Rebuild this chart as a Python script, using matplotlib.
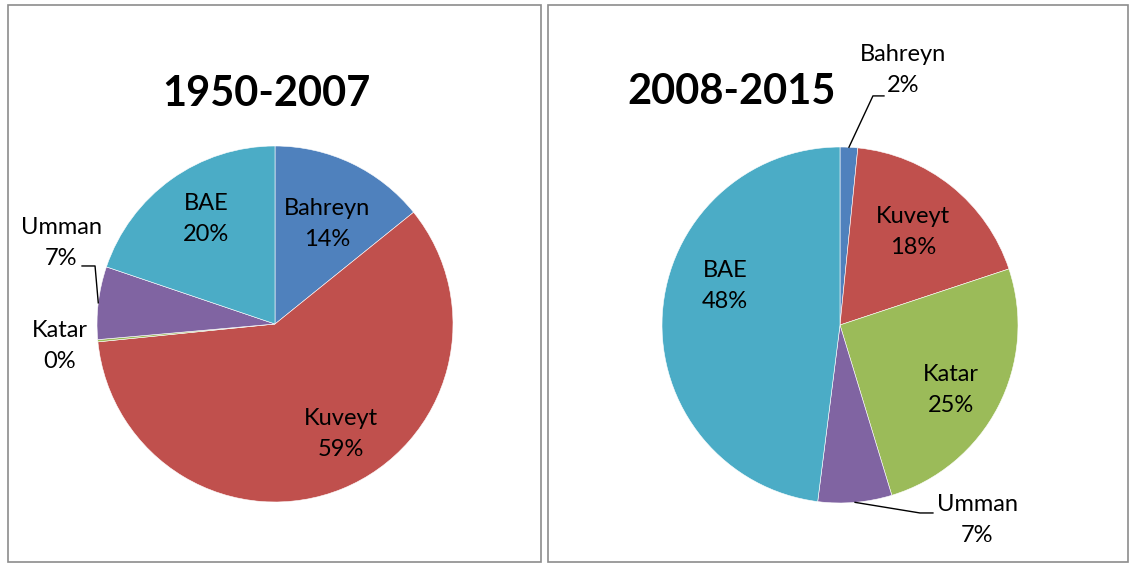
import matplotlib.pyplot as plt
import numpy as np
from matplotlib.patches import Rectangle

plt.rcParams['font.family'] = ['Lato', 'DejaVu Sans']

countries = ['Bahreyn', 'Kuveyt', 'Katar', 'Umman', 'BAE']
shares_1950 = [14.2, 59.2, 0.2, 6.6, 19.8]
shares_2008 = [1.6, 18.3, 25.4, 6.7, 48.0]
colors = ['#4F81BD', '#C0504D', '#9BBB59', '#8064A2', '#4BACC6']

W, H = 1129, 563
fig = plt.figure(figsize=(W / 100, H / 100), dpi=100)

# panel frames (pixels: x0, y0, x1, y1)
for x0, y0, x1, y1 in [(8, 5, 541, 562), (548, 5, 1128, 562)]:
    fig.patches.append(Rectangle((x0 / W, 1 - y1 / H), (x1 - x0) / W, (y1 - y0) / H,
                                 transform=fig.transFigure, fill=False,
                                 edgecolor='#8c8c8c', linewidth=1.2))


def pie_axes(cx, cy, r):
    ax = fig.add_axes([(cx - r) / W, 1 - (cy + r) / H, 2 * r / W, 2 * r / H])
    return ax


def draw_pie(ax, values, inside, outside):
    wedges, _ = ax.pie(values, colors=colors, startangle=90, counterclock=False,
                       radius=1, wedgeprops=dict(edgecolor='white', linewidth=0.4))
    ax.set_xlim(-1, 1)
    ax.set_ylim(-1, 1)
    ax.set_aspect('equal')
    ax.axis('off')
    for i, (name, v) in enumerate(zip(countries, values)):
        txt = f'{name}\n{round(v)}%'
        if i in inside:
            x, y = inside[i]
            ax.text(x, y, txt, ha='center', va='center', fontsize=17, linespacing=1.6)
        elif i in outside:
            (x, y), line = outside[i]
            ax.text(x, y, txt, ha='center', va='center', fontsize=17, linespacing=1.6)
            if line:
                w = wedges[i]
                mid = np.deg2rad((w.theta1 + w.theta2) / 2)
                (ex, ey), (ux, uy) = line
                ax.plot([np.cos(mid), ex, ux], [np.sin(mid), ey, uy],
                        color='black', linewidth=1, clip_on=False)


ax1 = pie_axes(275, 324, 178)
draw_pie(ax1, shares_1950,
         inside={0: (0.292, 0.562), 1: (0.371, -0.618), 4: (-0.388, 0.590)},
         outside={3: ((-1.202, 0.455), ((-1.011, 0.326), (-1.084, 0.326))),
                  2: ((-1.208, -0.124), None)})

ax2 = pie_axes(840, 325, 178)
draw_pie(ax2, shares_2008,
         inside={1: (0.410, 0.522), 2: (0.624, -0.365), 4: (-0.646, 0.219)},
         outside={0: ((0.354, 1.433), ((0.185, 1.287), (0.247, 1.287))),
                  3: ((0.770, -1.096), ((0.449, -1.056), (0.522, -1.056)))})

fig.text(266 / W, 1 - 94 / H, '1950-2007', ha='center', va='center',
         fontsize=30, fontweight='bold')
fig.text(732 / W, 1 - 92 / H, '2008-2015', ha='center', va='center',
         fontsize=30, fontweight='bold')

fig.savefig('out.png', dpi=100, facecolor='white')
